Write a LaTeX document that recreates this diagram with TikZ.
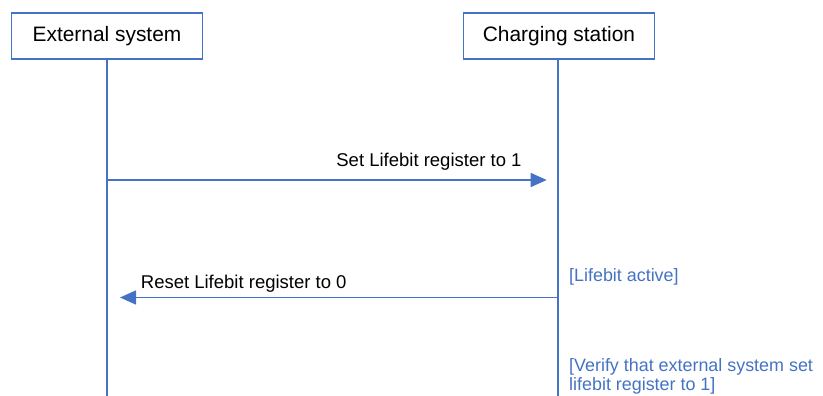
\documentclass[tikz,border=0pt]{standalone}
\usepackage{fontspec}
\setmainfont{Liberation Sans}
\usetikzlibrary{arrows.meta}
\definecolor{seqblue}{HTML}{4472C4}
\tikzset{
  actor/.style={draw=seqblue, line width=1.5pt, fill=white, minimum width=191pt, minimum height=46pt, inner sep=0pt, font=\fontsize{20.9}{24}\selectfont},
  lifeline/.style={draw=seqblue, line width=1.5pt},
  msg/.style={draw=seqblue, line width=1.5pt, -{Triangle[length=16pt,width=14pt]}},
  msglabel/.style={inner sep=0pt, font=\fontsize{18.5}{22}\selectfont},
  guard/.style={inner sep=0pt, text=seqblue, align=left, font=\fontsize{17.9}{19}\selectfont}
}
\begin{document}
\begin{tikzpicture}[x=1pt,y=-1pt]
\useasboundingbox (0,0) rectangle (823,396);
% lifelines
\coordinate (extTop) at (107,59);
\coordinate (extBot) at (107,396);
\coordinate (csTop) at (558,59);
\coordinate (csBot) at (558,396);
\draw[lifeline] (extTop) -- (extBot);
\draw[lifeline] (csTop) -- (csBot);
% actors
\node[actor] (ext) at (107,36) {External system};
\node[actor] (cs) at (559,36) {Charging station};
% message 1
\coordinate (m1s) at (107,180);
\coordinate (m1e) at (546.7,180);
\draw[msg] (m1s) -- (m1e);
\node[msglabel, anchor=base east] (l1) at (521.7,166) {Set Lifebit register to 1};
% message 2
\coordinate (m2s) at (558,297.5);
\coordinate (m2e) at (120,297.5);
\draw[msg] (m2s) -- (m2e);
\node[msglabel, anchor=base west] (l2) at (140.7,288.3) {Reset Lifebit register to 0};
% guards
\node[guard, anchor=base west] (g1) at (569,281.7) {[Lifebit active]};
\node[guard, anchor=base west] (g2) at (569,390) {[Verify that external system set\\lifebit register to 1]};
\end{tikzpicture}
\end{document}
